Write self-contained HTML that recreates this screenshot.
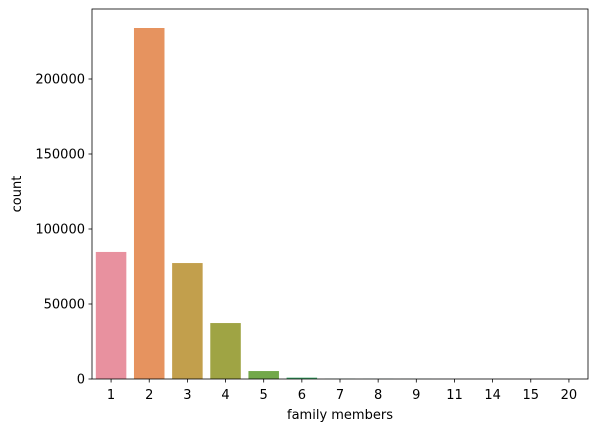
<!DOCTYPE html>
<html><head><meta charset="utf-8"><style>
body{margin:0;background:#fff;width:597px;height:432px;overflow:hidden}
text{font-family:"DejaVu Sans","Liberation Sans",sans-serif;font-size:13px;fill:#000}
</style></head><body>
<svg id="chart" width="597" height="432" xmlns="http://www.w3.org/2000/svg"></svg>
<script>
const categories=["1","2","3","4","5","6","7","8","9","11","14","15","20"];
const counts=[84700,234000,77300,37300,5300,900,120,80,50,30,20,20,10];
const colors=["#e8919f","#e6935f","#c29f4c","#9fa444","#72a84a","#3aa566","#3ba68c","#3ca4a2","#3fa1b8","#5f98d6","#9d89e5","#d27fe1","#e785c4"];
const yTicks=[0,50000,100000,150000,200000];
const L=92,R=588,T=9,B=379,yScale=75/50000;
const svg=document.getElementById('chart');
const NS="http://www.w3.org/2000/svg";
function y(v){return B-v*yScale;}
const step=(R-L)/categories.length;
function x(i){return L+step*(i+0.5);}
function mk(tag,attrs,parent){const e=document.createElementNS(NS,tag);for(const k in attrs)e.setAttribute(k,attrs[k]);(parent||svg).appendChild(e);return e;}
counts.forEach((v,i)=>{
  const r=mk('rect',{x:x(i)-step*0.4,y:y(v),width:step*0.8,height:B-y(v),fill:colors[i]});
  
  
});
mk('rect',{x:L,y:T,width:R-L,height:B-T,fill:'none',stroke:'#000','stroke-width':0.8});
categories.forEach((c,i)=>{
  mk('line',{x1:x(i),x2:x(i),y1:B,y2:B+3.5,stroke:'#000','stroke-width':0.8});
  const t=mk('text',{x:x(i),y:B+20,'text-anchor':'middle'});t.textContent=c;
  
  
});
yTicks.forEach(v=>{
  mk('line',{x1:L-3.5,x2:L,y1:y(v),y2:y(v),stroke:'#000','stroke-width':0.8});
  const t=mk('text',{x:L-7,y:y(v)+4.5,'text-anchor':'end'});t.textContent=v;
  
  
});
const xt=mk('text',{x:(L+R)/2,y:419,'text-anchor':'middle'});xt.textContent='family members';


const yt=mk('text',{x:21,y:(T+B)/2,'text-anchor':'middle',transform:'rotate(-90 21 '+((T+B)/2)+')'});yt.textContent='count';


</script>
</body></html>
